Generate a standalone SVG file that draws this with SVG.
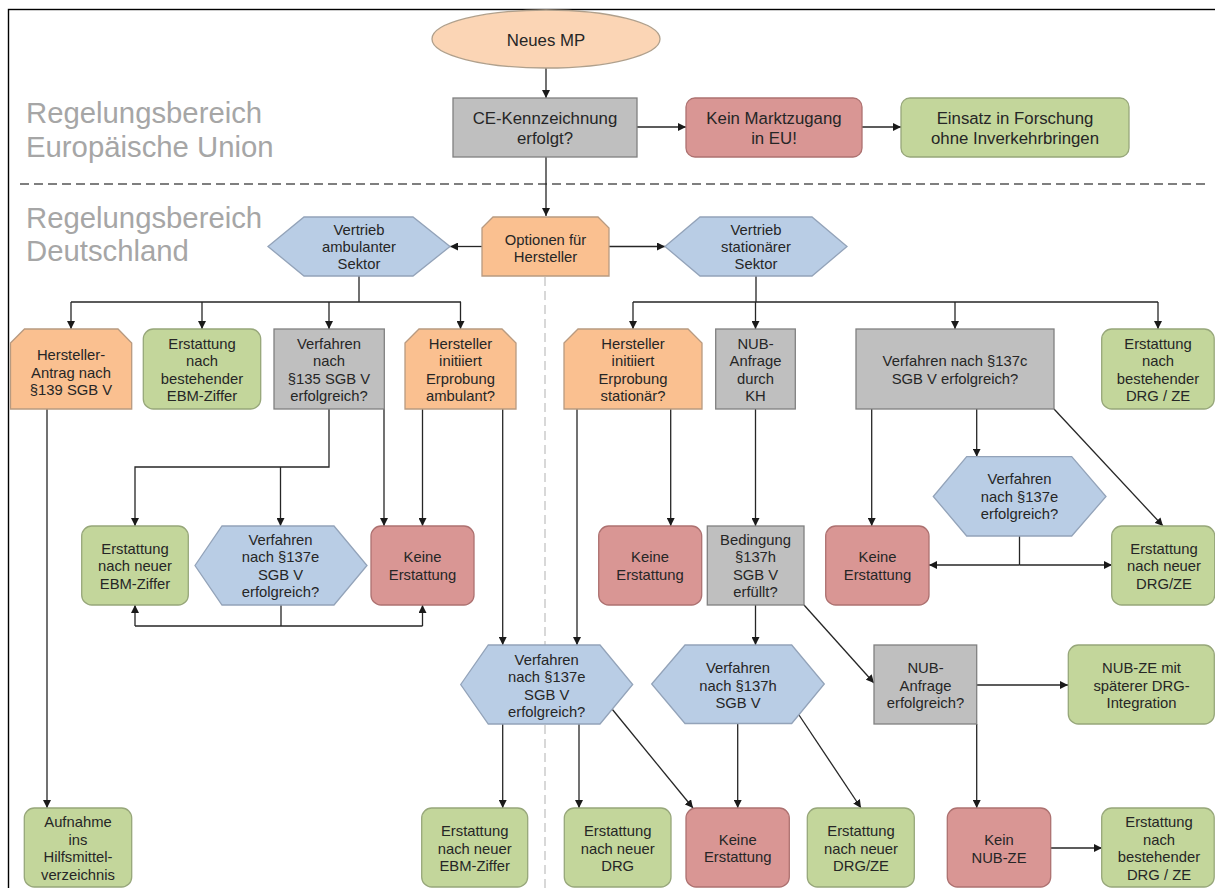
<svg xmlns="http://www.w3.org/2000/svg" width="1215" height="888" viewBox="0 0 1215 888">
<defs>
<marker id="arr" viewBox="0 0 10 10" refX="10" refY="5" markerWidth="8" markerHeight="8" markerUnits="userSpaceOnUse" orient="auto"><path d="M0,0 L10,5 L0,10 z" fill="#1a1a1a"/></marker>
<style>
text{font-family:"Liberation Sans",Arial,sans-serif;fill:#262626;text-anchor:middle}
.t{font-size:14.8px}
.big{font-size:16.8px}
.title{font-size:29.3px;fill:#a6a6a6;text-anchor:start}
.gray{fill:#bfbfbf;stroke:#808080;stroke-width:1.3}
.green{fill:#c3d69b;stroke:#97a77a;stroke-width:1.3}
.red{fill:#d99694;stroke:#ad7170;stroke-width:1.3}
.orange{fill:#fac090;stroke:#b89a80;stroke-width:1.3}
.blue{fill:#b9cde5;stroke:#93a3b9;stroke-width:1.3}
.peach{fill:#fbd5b5;stroke:#b0a08c;stroke-width:1.3}
.c{fill:none;stroke:#262626;stroke-width:1.3}
.a{fill:none;stroke:#262626;stroke-width:1.3;marker-end:url(#arr)}
</style>
</defs>
<rect width="1215" height="888" fill="#ffffff"/>
<rect x="8.5" y="9.5" width="1220" height="900" fill="none" stroke="#000" stroke-width="1.4"/>
<line x1="20" y1="184" x2="1205" y2="184" stroke="#555" stroke-width="1.3" stroke-dasharray="9,5"/>
<line x1="545" y1="277" x2="545" y2="888" stroke="#c4c4c4" stroke-width="1.3" stroke-dasharray="9,5"/>
<text class="title" x="26" y="123">Regelungsbereich</text>
<text class="title" x="26" y="157">Europäische Union</text>
<text class="title" x="26" y="228">Regelungsbereich</text>
<text class="title" x="26" y="261">Deutschland</text>

<g id="connectors">
<path class="a" d="M546,68 V98"/>
<path class="a" d="M637,127 H686"/>
<path class="a" d="M862,127 H901"/>
<path class="a" d="M546,157 V216"/>
<path class="a" d="M482,246.5 H450"/>
<path class="a" d="M609,246.5 H665"/>
<path class="c" d="M359,276 V302 M71,302 H461"/>
<path class="a" d="M71,302 V329"/>
<path class="a" d="M202,302 V329"/>
<path class="a" d="M329,302 V329"/>
<path class="a" d="M460.5,302 V329"/>
<path class="c" d="M756,276 V302 M633,302 H1158"/>
<path class="a" d="M633,302 V329"/>
<path class="a" d="M755.5,302 V329"/>
<path class="a" d="M955,302 V329"/>
<path class="a" d="M1158,302 V329"/>
<path class="a" d="M47,409 V808"/>
<path class="a" d="M329,409 V467 H135 V526"/>
<path class="a" d="M280.5,467 V526"/>
<path class="a" d="M384,409 V526"/>
<path class="a" d="M422.5,409 V526"/>
<path class="a" d="M502.7,409 V645"/>
<path class="c" d="M281,605 V626 M135,626 H422.5"/>
<path class="a" d="M135,626 V605"/>
<path class="a" d="M422.5,626 V605"/>
<path class="a" d="M670.7,409 V526"/>
<path class="a" d="M577,409 V645"/>
<path class="a" d="M755.5,409 V526"/>
<path class="a" d="M755.5,605 V645"/>
<path class="a" d="M804,605 L874,683"/>
<path class="a" d="M502.7,724 V808"/>
<path class="a" d="M579,724 V808"/>
<path class="a" d="M612,709 L693,808"/>
<path class="a" d="M737.7,724 V808"/>
<path class="a" d="M799,715 L861,808"/>
<path class="a" d="M976.7,685 H1068"/>
<path class="a" d="M976.7,724 V808"/>
<path class="a" d="M1051,848 H1102"/>
<path class="a" d="M871.7,409 V526"/>
<path class="a" d="M976.7,409 V456.7"/>
<path class="a" d="M1054,409 L1163,526"/>
<path class="c" d="M1019.5,536 V565"/>
<path class="a" d="M1019.5,565 H929"/>
<path class="a" d="M1019.5,565 H1112"/>
</g>

<g id="neues-mp"><ellipse class="peach" cx="546" cy="39" rx="114" ry="29"/><text class="big" x="546" y="45.5">Neues MP</text></g>
<g id="ce"><rect class="gray" x="453" y="98" width="184" height="59"/><text class="big" x="545" y="124">CE-Kennzeichnung</text><text class="big" x="545" y="144">erfolgt?</text></g>
<g id="kein-markt"><rect class="red" x="686" y="98" width="176" height="59" rx="9"/><text class="big" x="774" y="124">Kein Marktzugang</text><text class="big" x="774" y="144">in EU!</text></g>
<g id="einsatz"><rect class="green" x="901" y="98" width="228" height="59" rx="9"/><text class="big" x="1015" y="124">Einsatz in Forschung</text><text class="big" x="1015" y="144">ohne Inverkehrbringen</text></g>

<g id="optionen"><polygon class="orange" points="482,228 493,217 598,217 609,228 609,276 482,276"/><text class="t" x="545.5" y="245">Optionen für</text><text class="t" x="545.5" y="262">Hersteller</text></g>
<g id="ambulant"><polygon class="blue" points="268,246.5 304,217 413,217 450,246.5 413,276 304,276"/><text class="t" x="359" y="235">Vertrieb</text><text class="t" x="359" y="252">ambulanter</text><text class="t" x="359" y="269">Sektor</text></g>
<g id="stationaer"><polygon class="blue" points="665,246.5 700,217 812,217 847,246.5 812,276 700,276"/><text class="t" x="756" y="235">Vertrieb</text><text class="t" x="756" y="252">stationärer</text><text class="t" x="756" y="269">Sektor</text></g>

<g id="antrag139"><polygon class="orange" points="10.5,343 24.5,329 118,329 131.7,343 131.7,409 10.5,409"/><text class="t" x="71" y="360">Hersteller-</text><text class="t" x="71" y="377.5">Antrag nach</text><text class="t" x="71" y="395">§139 SGB V</text></g>
<g id="ebm-best"><rect class="green" x="143.3" y="329" width="117.4" height="80" rx="10"/><text class="t" x="202" y="348.5">Erstattung</text><text class="t" x="202" y="366">nach</text><text class="t" x="202" y="383.5">bestehender</text><text class="t" x="202" y="401">EBM-Ziffer</text></g>
<g id="v135"><rect class="gray" x="274" y="329" width="110.3" height="80"/><text class="t" x="329" y="348.5">Verfahren</text><text class="t" x="329" y="366">nach</text><text class="t" x="329" y="383.5">§135 SGB V</text><text class="t" x="329" y="401">erfolgreich?</text></g>
<g id="erprob-amb"><polygon class="orange" points="405,343 419,329 502,329 516,343 516,409 405,409"/><text class="t" x="460.5" y="348.5">Hersteller</text><text class="t" x="460.5" y="366">initiiert</text><text class="t" x="460.5" y="383.5">Erprobung</text><text class="t" x="460.5" y="401">ambulant?</text></g>
<g id="erprob-stat"><polygon class="orange" points="564,343 578,329 688,329 702,343 702,409 564,409"/><text class="t" x="633" y="348.5">Hersteller</text><text class="t" x="633" y="366">initiiert</text><text class="t" x="633" y="383.5">Erprobung</text><text class="t" x="633" y="401">stationär?</text></g>
<g id="nub-kh"><rect class="gray" x="715.7" y="329" width="79.6" height="80"/><text class="t" x="755.5" y="348.5">NUB-</text><text class="t" x="755.5" y="366">Anfrage</text><text class="t" x="755.5" y="383.5">durch</text><text class="t" x="755.5" y="401">KH</text></g>
<g id="v137c"><rect class="gray" x="856" y="329" width="198" height="80"/><text class="t" x="955" y="366">Verfahren nach §137c</text><text class="t" x="955" y="383.5">SGB V erfolgreich?</text></g>
<g id="drg-best1"><rect class="green" x="1101.7" y="329" width="112.5" height="80" rx="10"/><text class="t" x="1158" y="348.5">Erstattung</text><text class="t" x="1158" y="366">nach</text><text class="t" x="1158" y="383.5">bestehender</text><text class="t" x="1158" y="401">DRG / ZE</text></g>

<g id="ebm-neu1"><rect class="green" x="81.7" y="526" width="106.6" height="79" rx="10"/><text class="t" x="135" y="553.5">Erstattung</text><text class="t" x="135" y="571">nach neuer</text><text class="t" x="135" y="588.5">EBM-Ziffer</text></g>
<g id="v137e-amb"><polygon class="blue" points="195,565.5 222,526 334,526 367,565.5 334,605 222,605"/><text class="t" x="280.5" y="544.5">Verfahren</text><text class="t" x="280.5" y="562">nach §137e</text><text class="t" x="280.5" y="579.5">SGB V</text><text class="t" x="280.5" y="597">erfolgreich?</text></g>
<g id="keine1"><rect class="red" x="371" y="526" width="103" height="79" rx="10"/><text class="t" x="422.5" y="562">Keine</text><text class="t" x="422.5" y="579.5">Erstattung</text></g>
<g id="keine2"><rect class="red" x="598.7" y="526" width="103" height="79" rx="10"/><text class="t" x="650" y="562">Keine</text><text class="t" x="650" y="579.5">Erstattung</text></g>
<g id="bedingung"><rect class="gray" x="707.3" y="526" width="96.7" height="79"/><text class="t" x="755.5" y="544.5">Bedingung</text><text class="t" x="755.5" y="562">§137h</text><text class="t" x="755.5" y="579.5">SGB V</text><text class="t" x="755.5" y="597">erfüllt?</text></g>
<g id="v137e-stat"><polygon class="blue" points="933.3,496.5 966.7,456.7 1071.7,456.7 1106,496.5 1071.7,536 966.7,536"/><text class="t" x="1019.5" y="484">Verfahren</text><text class="t" x="1019.5" y="501.5">nach §137e</text><text class="t" x="1019.5" y="519">erfolgreich?</text></g>
<g id="keine3"><rect class="red" x="825.7" y="526" width="103.3" height="79" rx="10"/><text class="t" x="877.5" y="562">Keine</text><text class="t" x="877.5" y="579.5">Erstattung</text></g>
<g id="drg-neu1"><rect class="green" x="1111.7" y="526" width="103" height="79" rx="10"/><text class="t" x="1164" y="553.5">Erstattung</text><text class="t" x="1164" y="571">nach neuer</text><text class="t" x="1164" y="588.5">DRG/ZE</text></g>

<g id="v137e-mid"><polygon class="blue" points="460.7,684.5 488.3,645 600,645 632.7,684.5 600,724 488.3,724"/><text class="t" x="546.7" y="664.5">Verfahren</text><text class="t" x="546.7" y="682">nach §137e</text><text class="t" x="546.7" y="699.5">SGB V</text><text class="t" x="546.7" y="717">erfolgreich?</text></g>
<g id="v137h"><polygon class="blue" points="651.7,684 685,645 791.7,645 824.3,684 791.7,723.5 685,723.5"/><text class="t" x="738" y="673">Verfahren</text><text class="t" x="738" y="690.5">nach §137h</text><text class="t" x="738" y="708">SGB V</text></g>
<g id="nub-erfolg"><rect class="gray" x="874" y="645" width="102.7" height="79"/><text class="t" x="925.5" y="673">NUB-</text><text class="t" x="925.5" y="690.5">Anfrage</text><text class="t" x="925.5" y="708">erfolgreich?</text></g>
<g id="nub-ze"><rect class="green" x="1068.3" y="645" width="146" height="79" rx="10"/><text class="t" x="1141.5" y="673">NUB-ZE mit</text><text class="t" x="1141.5" y="690.5">späterer DRG-</text><text class="t" x="1141.5" y="708">Integration</text></g>

<g id="hilfsmittel"><rect class="green" x="24.3" y="808" width="107.4" height="79" rx="10"/><text class="t" x="78" y="827">Aufnahme</text><text class="t" x="78" y="844.5">ins</text><text class="t" x="78" y="862">Hilfsmittel-</text><text class="t" x="78" y="879.5">verzeichnis</text></g>
<g id="ebm-neu2"><rect class="green" x="421.7" y="808" width="106" height="79" rx="10"/><text class="t" x="474.7" y="836">Erstattung</text><text class="t" x="474.7" y="853.5">nach neuer</text><text class="t" x="474.7" y="871">EBM-Ziffer</text></g>
<g id="drg-neu2"><rect class="green" x="564.3" y="808" width="106.7" height="79" rx="10"/><text class="t" x="617.7" y="836">Erstattung</text><text class="t" x="617.7" y="853.5">nach neuer</text><text class="t" x="617.7" y="871">DRG</text></g>
<g id="keine4"><rect class="red" x="686" y="808" width="103.3" height="79" rx="10"/><text class="t" x="737.7" y="844.5">Keine</text><text class="t" x="737.7" y="862">Erstattung</text></g>
<g id="drgze-neu2"><rect class="green" x="807.3" y="808" width="107" height="79" rx="10"/><text class="t" x="861" y="836">Erstattung</text><text class="t" x="861" y="853.5">nach neuer</text><text class="t" x="861" y="871">DRG/ZE</text></g>
<g id="kein-nub"><rect class="red" x="947.3" y="808" width="103.4" height="79" rx="10"/><text class="t" x="999" y="845">Kein</text><text class="t" x="999" y="862.5">NUB-ZE</text></g>
<g id="drg-best2"><rect class="green" x="1101.7" y="808" width="112.5" height="79" rx="10"/><text class="t" x="1159" y="827">Erstattung</text><text class="t" x="1159" y="844.5">nach</text><text class="t" x="1159" y="862">bestehender</text><text class="t" x="1159" y="879.5">DRG / ZE</text></g>
</svg>
